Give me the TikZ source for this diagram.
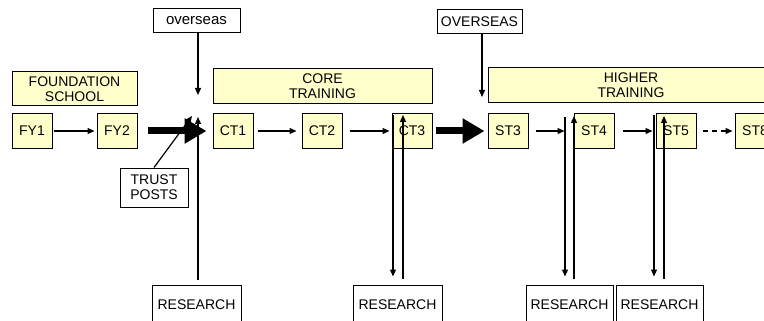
\documentclass[tikz,border=0pt]{standalone}
\usepackage{fontspec}
\setmainfont{Liberation Sans}
\usetikzlibrary{arrows.meta,calc}
\definecolor{boxfill}{HTML}{FFFFCC}
\newcommand{\lblfont}{\fontsize{14}{15}\selectfont}
\begin{document}
\begin{tikzpicture}[x=1pt,y=-1pt,
  stage/.style={draw=black,line width=1pt,fill=boxfill,minimum width=40pt,minimum height=34pt,inner sep=0pt,font=\lblfont},
  band/.style={draw=black,line width=1pt,fill=boxfill,minimum height=35pt,inner sep=0pt,align=center,font=\lblfont},
  plain/.style={draw=black,line width=1pt,fill=white,inner sep=0pt,align=center,font=\lblfont},
  arr/.style={line width=1.2pt,-{Triangle[length=7pt,width=6pt]}},
  bigarr/.style={line width=7pt,-{Triangle[length=22pt,width=24pt]}}
]
\clip (0,0) rectangle (764,321);
\fill[white] (0,0) rectangle (764,321);

% bands
\node[band,minimum width=125pt,minimum height=34pt] (FS) at (74.5,89) {FOUNDATION\\SCHOOL};
\node[band,minimum width=219pt] (CORE) at (322.5,86.5) {CORE\\TRAINING};
\node[band,minimum width=286pt] (HIGH) at (631,85) {HIGHER\\TRAINING};

% stages
\node[stage] (FY1) at (32,131) {FY1};
\node[stage] (FY2) at (117,131) {FY2};
\node[stage] (CT1) at (233,131) {CT1};
\node[stage] (CT2) at (322,131) {CT2};
\node[stage] (CT3) at (412,131) {CT3};
\node[stage] (ST3) at (508,131) {ST3};
\node[stage] (ST4) at (594,131) {ST4};
\node[stage] (ST5) at (676,131) {ST5};
\node[stage] (ST8) at (755,131) {ST8};

% plain boxes
\node[plain,minimum width=87pt,minimum height=24pt,font=\fontsize{15}{16}\selectfont] (ov) at (196.5,21) {overseas};
\node[plain,minimum width=85pt,minimum height=24pt] (OV) at (479.5,21.5) {OVERSEAS};
\node[plain,minimum width=68pt,minimum height=39pt] (TP) at (154,187.5) {TRUST\\POSTS};
\node[plain,minimum width=89pt,minimum height=40pt] (R1) at (196.5,305) {RESEARCH};
\node[plain,minimum width=89pt,minimum height=40pt] (R2) at (397.5,305) {RESEARCH};
\node[plain,minimum width=87pt,minimum height=40pt] (R3) at (569.5,305) {RESEARCH};
\node[plain,minimum width=87pt,minimum height=40pt] (R4) at (659.5,305) {RESEARCH};

% horizontal connectors
\draw[arr,shorten <=1pt,shorten >=2pt] (FY1) -- (FY2);
\draw[bigarr,shorten <=10pt,shorten >=6pt] (FY2) -- (CT1);
\draw[arr,shorten <=4pt,shorten >=5pt] (CT1) -- (CT2);
\draw[arr,shorten <=7pt,shorten >=2pt] (CT2) -- (CT3);
\draw[bigarr,shorten <=3pt,shorten >=3pt] (CT3) -- (ST3);
\draw[arr,shorten <=7pt,shorten >=9pt] (ST3) -- (ST4);
\draw[arr,shorten <=8pt,shorten >=3pt] (ST4) -- (ST5);
\draw[arr,dash pattern=on 5pt off 4pt,shorten <=6pt,shorten >=2pt] (ST5) -- (ST8);

% overseas inputs
\coordinate (ovtip) at (198,95);
\draw[arr] (ov.south -| ovtip) -- (ovtip);
\coordinate (OVtip) at (482,97);
\draw[arr] (OV.south -| OVtip) -- (OVtip);

% trust posts
\coordinate (tptip) at (192,116);
\draw[arr] (TP.north) -- (tptip);

% research 1
\coordinate (r1tip) at (198,117);
\draw[arr,shorten <=5pt] (R1.north -| r1tip) -- (r1tip);

% research pairs
\coordinate (d2) at (393,115);
\coordinate (u2) at (403,115);
\draw[arr,shorten >=8pt] (d2) -- (d2 |- R2.north);
\draw[arr,shorten <=6pt] (u2 |- R2.north) -- (u2);

\coordinate (d3) at (565,117);
\coordinate (u3) at (574,116);
\draw[arr,shorten >=8pt] (d3) -- (d3 |- R3.north);
\draw[arr,shorten <=6pt] (u3 |- R3.north) -- (u3);

\coordinate (d4) at (654,115);
\coordinate (u4) at (664,116);
\draw[arr,shorten >=8pt] (d4) -- (d4 |- R4.north);
\draw[arr,shorten <=6pt] (u4 |- R4.north) -- (u4);
\end{tikzpicture}
\end{document}
